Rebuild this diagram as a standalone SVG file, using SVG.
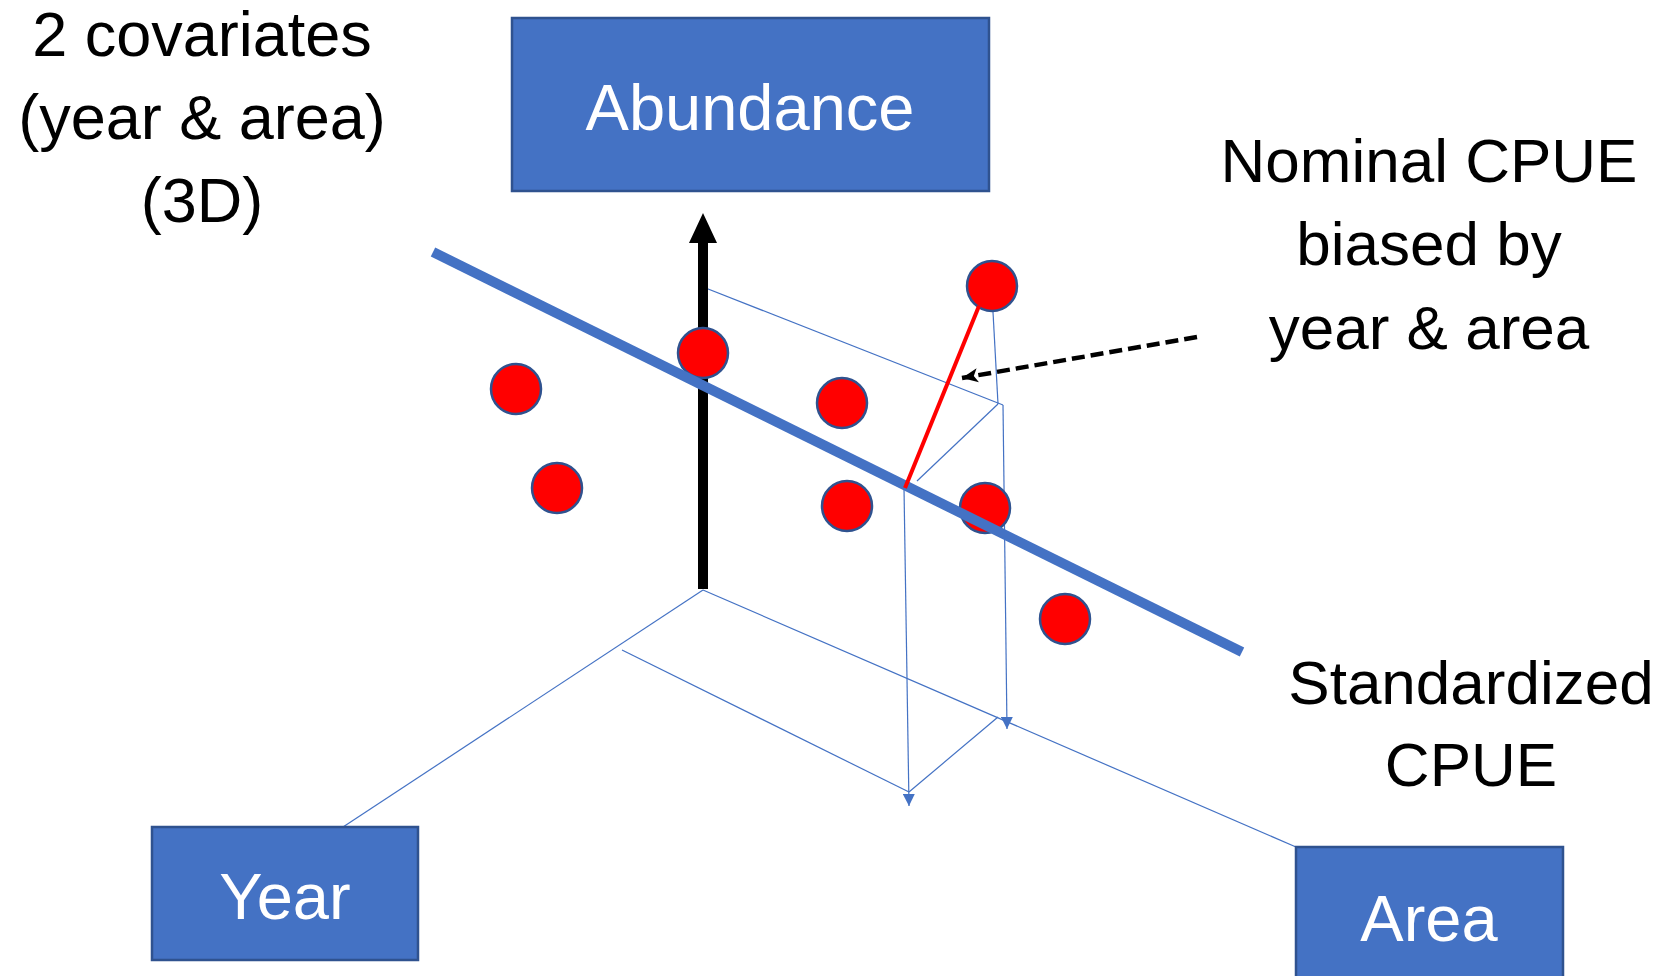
<svg xmlns="http://www.w3.org/2000/svg" width="1665" height="976" viewBox="0 0 1665 976">
<defs>
<style>
.box{fill:#4472C4;stroke:#2F528F;stroke-width:2.5}
.lbl{font-family:"Liberation Sans",Arial,sans-serif;font-size:65px;fill:#fff;text-anchor:middle}
.txt{font-family:"Liberation Sans",Arial,sans-serif;font-size:62px;fill:#000;text-anchor:middle}
.big{font-size:63px}
.thin{stroke:#4472C4;stroke-width:1.2;fill:none}
.dot{fill:#FF0000;stroke:#2F528F;stroke-width:2.5}
</style>
<marker id="bt" viewBox="0 0 12 12" refX="12" refY="6" markerWidth="12" markerHeight="12" markerUnits="userSpaceOnUse" orient="auto"><path d="M0,0 L12,6 L0,12 Z" fill="#4472C4"/></marker>
<marker id="dk" viewBox="0 0 16 16" refX="16" refY="8" markerWidth="16" markerHeight="16" markerUnits="userSpaceOnUse" orient="auto"><path d="M0,1 L16,8 L0,15 L4,8 Z" fill="#000"/></marker>
</defs>
<g id="connectors">
<line class="thin" x1="703" y1="590" x2="343" y2="827"/>
<line class="thin" x1="703" y1="590" x2="1296" y2="847"/>
<line class="thin" x1="622" y1="650" x2="909" y2="792"/>
<line class="thin" x1="909" y1="792" x2="998" y2="717"/>
<line class="thin" x1="703" y1="287" x2="1003" y2="405"/>
<line class="thin" x1="993" y1="312" x2="998" y2="404"/>
<line class="thin" x1="998" y1="404" x2="917" y2="481"/>
<line class="thin" x1="1003" y1="405" x2="1007" y2="729" marker-end="url(#bt)"/>
<line class="thin" x1="904" y1="488" x2="909" y2="806" marker-end="url(#bt)"/>
<line x1="703" y1="589" x2="703" y2="242" stroke="#000" stroke-width="10"/>
<path d="M703,213 L717,243 L689,243 Z" fill="#000"/>
</g>
<g id="points">
<circle class="dot" cx="516" cy="389" r="25"/>
<circle class="dot" cx="557" cy="488" r="25"/>
<circle class="dot" cx="703" cy="353" r="25"/>
<circle class="dot" cx="842" cy="403" r="25"/>
<circle class="dot" cx="847" cy="506" r="25"/>
<circle class="dot" cx="992" cy="286" r="25"/>
<circle class="dot" cx="985" cy="508" r="25"/>
<circle class="dot" cx="1065" cy="619" r="25"/>
</g>
<g id="standardized-line">
<line x1="433" y1="252" x2="1242" y2="652" stroke="#4472C4" stroke-width="10"/>
</g>
<g id="residual">
<line x1="979" y1="306" x2="905" y2="488" stroke="#FF0000" stroke-width="4"/>
</g>
<g id="nominal-arrow">
<line x1="1197" y1="337" x2="962" y2="378" stroke="#000" stroke-width="4.5" stroke-dasharray="13,6" marker-end="url(#dk)"/>
</g>
<g id="abundance">
<rect class="box" x="512" y="18" width="477" height="173"/>
<text class="lbl" x="750" y="130">Abundance</text>
</g>
<g id="year">
<rect class="box" x="152" y="827" width="266" height="133"/>
<text class="lbl" x="285" y="919">Year</text>
</g>
<g id="area">
<rect class="box" x="1296" y="847" width="267" height="140"/>
<text class="lbl" x="1429" y="941">Area</text>
</g>
<g id="covariates-label">
<text class="txt big" x="202" y="56">2 covariates</text>
<text class="txt big" x="202" y="139">(year &amp; area)</text>
<text class="txt big" x="202" y="222">(3D)</text>
</g>
<g id="nominal-label">
<text class="txt" x="1429" y="182">Nominal CPUE</text>
<text class="txt" x="1429" y="265">biased by</text>
<text class="txt" x="1429" y="349">year &amp; area</text>
</g>
<g id="standardized-label">
<text class="txt" x="1471" y="704">Standardized</text>
<text class="txt" x="1471" y="786">CPUE</text>
</g>
</svg>
